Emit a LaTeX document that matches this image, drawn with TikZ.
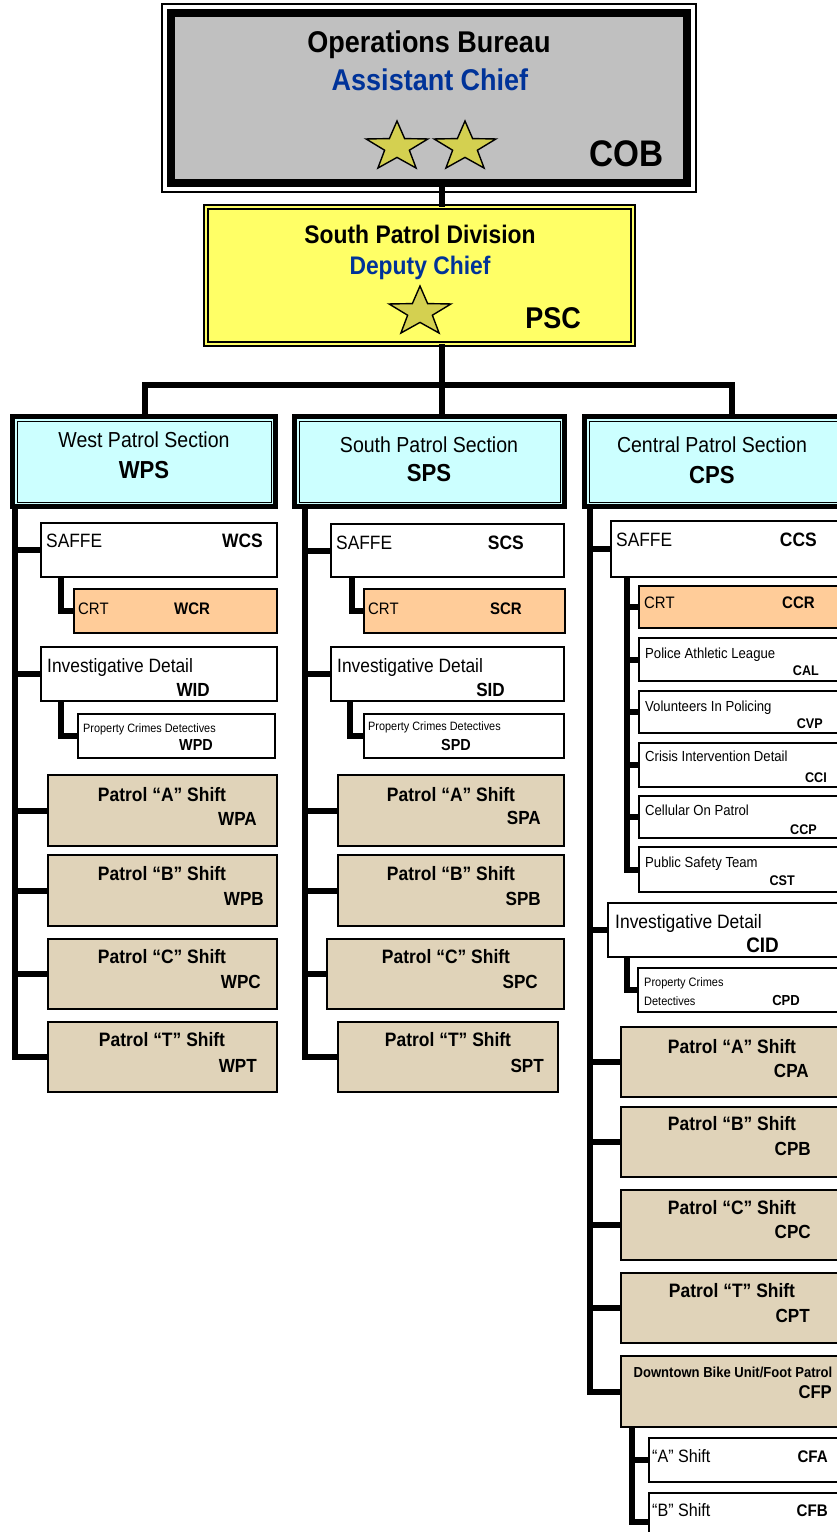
\documentclass[tikz,border=0pt]{standalone}
\usepackage{fontspec}
\setmainfont{Liberation Sans}[FakeStretch=0.9]
\usepackage{tikz}
\usetikzlibrary{fit, shapes.geometric}
\definecolor{cobgray}{RGB}{192, 192, 192}
\definecolor{pscyellow}{RGB}{255, 255, 102}
\definecolor{chiefblue}{RGB}{0, 51, 153}
\definecolor{sectcyan}{RGB}{204, 255, 255}
\definecolor{crtorange}{RGB}{255, 204, 153}
\definecolor{shifttan}{RGB}{224, 211, 185}
\definecolor{starfill}{RGB}{212, 208, 80}
\newcommand{\fsz}[1]{\fontsize{#1}{#1}\selectfont}
\tikzset{
  unit/.style={draw, line width=2.2pt, fill=white, inner sep=0pt, outer sep=0pt},
  crtbox/.style={unit, fill=crtorange},
  shiftbox/.style={unit, fill=shifttan},
  sect/.style={draw, line width=5pt, fill=sectcyan, inner sep=0pt, outer sep=0pt},
  link/.style={line width=6pt},
  lbl/.style={anchor=base west, inner sep=0pt},
  tag/.style={anchor=base east, inner sep=0pt},
  ttl/.style={anchor=base, inner sep=0pt},
  badge/.style={star, star points=5, star point ratio=2.5, minimum size=52pt,
    inner sep=0pt, draw, line width=1.4pt, fill=starfill, xscale=1.25}
}

\begin{document}
\begin{tikzpicture}[x=1pt, y=-1pt]
    \useasboundingbox (0,0) rectangle (837,1532);
    \clip (0,0) rectangle (837,1532);

    % bureau and division
    \node[draw, line width=8pt, fill=cobgray, inner sep=0pt, outer sep=0pt,
      fit={(171,13) (687,183)}] (cob) {};
    \draw[line width=1.5pt] ([shift={(-9,9)}]cob.south west) rectangle ([shift={(9,-9)}]cob.north east);
    \node[draw, line width=1.5pt, double=pscyellow, double distance=2.5pt, fill=pscyellow,
      inner sep=0pt, outer sep=0pt, fit={(206,207) (633,344)}] (psc) {};

    \node[ttl, font=\fsz{30}\bfseries] (cob-t) at (429,52) {Operations Bureau};
    \node[ttl, font=\fsz{30}\bfseries, text=chiefblue] (cob-r) at (430,90) {Assistant Chief};
    \node[tag, font=\fsz{37}\bfseries] (cob-c) at (664,166) {COB};
    \node[badge] (star1) at (397,147) {};
    \node[badge] (star2) at (465,147) {};

    \node[ttl, font=\fsz{25.4}\bfseries] (psc-t) at (420,243) {South Patrol Division};
    \node[ttl, font=\fsz{25.4}\bfseries, text=chiefblue] (psc-r) at (420,274) {Deputy Chief};
    \node[tag, font=\fsz{30}\bfseries] (psc-c) at (581,328) {PSC};
    \node[badge] (star3) at (420,312) {};

    % sections
    \node[sect, fit={(12.5,416.5) (275.5,506.5)}] (wps) {};
    \node[sect, fit={(294.5,416.5) (564.5,506.5)}] (sps) {};
    \node[sect, fit={(584.5,416.5) (860,506.5)}] (cps) {};
    \foreach \s in {wps,sps,cps}
      \draw[line width=1pt] ([shift={(4.5,-4.5)}]\s.south west) rectangle ([shift={(-4.5,4.5)}]\s.north east);

    \node[ttl, font=\fsz{21.7}] (wps-t) at (144,447) {West Patrol Section};
    \node[ttl, font=\fsz{24.6}\bfseries] (wps-c) at (144,478) {WPS};
    \node[ttl, font=\fsz{21.7}] (sps-t) at (429,452) {South Patrol Section};
    \node[ttl, font=\fsz{24.6}\bfseries] (sps-c) at (429,481) {SPS};
    \node[ttl, font=\fsz{21.7}] (cps-t) at (712,452) {Central Patrol Section};
    \node[ttl, font=\fsz{24.6}\bfseries] (cps-c) at (712,483) {CPS};

    % west
    \node[unit, fit={(41,523) (277,577)}] (wcs) {};
    \node[crtbox, fit={(74,589) (277,633)}] (wcr) {};
    \node[unit, fit={(41,647) (277,701)}] (wid) {};
    \node[unit, fit={(78,714) (275,758)}] (wpd) {};
    \node[shiftbox, fit={(48,775) (277,846)}] (wpa) {};
    \node[shiftbox, fit={(48,855) (277,926)}] (wpb) {};
    \node[shiftbox, fit={(48,939) (277,1009)}] (wpc) {};
    \node[shiftbox, fit={(48,1022) (277,1092)}] (wpt) {};

    \node[lbl, font=\fsz{19.3}] (wcs-t) at (46,547) {SAFFE};
    \node[tag, font=\fsz{19.4}\bfseries] (wcs-c) at (263,547) {WCS};
    \node[lbl, font=\fsz{16.6}] (wcr-t) at (78,614) {CRT};
    \node[lbl, font=\fsz{16.7}\bfseries] (wcr-c) at (174,614) {WCR};
    \node[lbl, font=\fsz{19.3}] (wid-t) at (47,672) {Investigative Detail};
    \node[tag, font=\fsz{19}\bfseries] (wid-c) at (210,696) {WID};
    \node[lbl, font=\fsz{12.1}] (wpd-t) at (83,732) {Property Crimes Detectives};
    \node[ttl, font=\fsz{16}\bfseries] (wpd-c) at (196,750) {WPD};
    \node[ttl, font=\fsz{19.4}\bfseries] (wpa-t) at (162,801) {Patrol “A” Shift};
    \node[tag, font=\fsz{19}\bfseries] (wpa-c) at (257,825) {WPA};
    \node[ttl, font=\fsz{19.4}\bfseries] (wpb-t) at (162,880) {Patrol “B” Shift};
    \node[tag, font=\fsz{19}\bfseries] (wpb-c) at (264,905) {WPB};
    \node[ttl, font=\fsz{19.4}\bfseries] (wpc-t) at (162,963) {Patrol “C” Shift};
    \node[tag, font=\fsz{19}\bfseries] (wpc-c) at (261,988) {WPC};
    \node[ttl, font=\fsz{19.4}\bfseries] (wpt-t) at (162,1046) {Patrol “T” Shift};
    \node[tag, font=\fsz{19}\bfseries] (wpt-c) at (257,1072) {WPT};

    % south
    \node[unit, fit={(331,524) (564,577)}] (scs) {};
    \node[crtbox, fit={(364,589) (565,633)}] (scr) {};
    \node[unit, fit={(331,647) (564,701)}] (sid) {};
    \node[unit, fit={(364,714) (564,758)}] (spd) {};
    \node[shiftbox, fit={(338,775) (564,846)}] (spa) {};
    \node[shiftbox, fit={(338,855) (564,926)}] (spb) {};
    \node[shiftbox, fit={(327,939) (564,1009)}] (spc) {};
    \node[shiftbox, fit={(338,1022) (558,1092)}] (spt) {};

    \node[lbl, font=\fsz{19.3}] (scs-t) at (336,549) {SAFFE};
    \node[tag, font=\fsz{19.4}\bfseries] (scs-c) at (524,549) {SCS};
    \node[lbl, font=\fsz{16.6}] (scr-t) at (368,614) {CRT};
    \node[tag, font=\fsz{16.7}\bfseries] (scr-c) at (522,614) {SCR};
    \node[lbl, font=\fsz{19.3}] (sid-t) at (337,672) {Investigative Detail};
    \node[tag, font=\fsz{19}\bfseries] (sid-c) at (505,696) {SID};
    \node[lbl, font=\fsz{12.1}] (spd-t) at (368,730) {Property Crimes Detectives};
    \node[ttl, font=\fsz{16}\bfseries] (spd-c) at (456,750) {SPD};
    \node[ttl, font=\fsz{19.4}\bfseries] (spa-t) at (451,801) {Patrol “A” Shift};
    \node[tag, font=\fsz{19}\bfseries] (spa-c) at (541,824) {SPA};
    \node[ttl, font=\fsz{19.4}\bfseries] (spb-t) at (451,880) {Patrol “B” Shift};
    \node[tag, font=\fsz{19}\bfseries] (spb-c) at (541,905) {SPB};
    \node[ttl, font=\fsz{19.4}\bfseries] (spc-t) at (446,963) {Patrol “C” Shift};
    \node[tag, font=\fsz{19}\bfseries] (spc-c) at (538,988) {SPC};
    \node[ttl, font=\fsz{19.4}\bfseries] (spt-t) at (448,1046) {Patrol “T” Shift};
    \node[tag, font=\fsz{19}\bfseries] (spt-c) at (544,1072) {SPT};

    % central
    \node[unit, fit={(611,521) (860,577)}] (ccs) {};
    \node[crtbox, fit={(639,586) (860,628)}] (ccr) {};
    \node[unit, fit={(639,638) (860,681)}] (cal) {};
    \node[unit, fit={(639,691) (860,733)}] (cvp) {};
    \node[unit, fit={(639,743) (860,787)}] (cci) {};
    \node[unit, fit={(639,796) (860,838)}] (ccp) {};
    \node[unit, fit={(639,847) (860,892)}] (cst) {};
    \node[unit, fit={(608,903) (860,957)}] (cid) {};
    \node[unit, fit={(638,968) (860,1012)}] (cpd) {};
    \node[shiftbox, fit={(621,1027) (860,1097)}] (cpa) {};
    \node[shiftbox, fit={(621,1107) (860,1177)}] (cpb) {};
    \node[shiftbox, fit={(621,1190) (860,1260)}] (cpc) {};
    \node[shiftbox, fit={(621,1273) (860,1343)}] (cpt) {};
    \node[shiftbox, fit={(621,1356) (860,1427)}] (cfp) {};
    \node[unit, fit={(649,1438) (860,1482)}] (cfa) {};
    \node[unit, fit={(649,1493) (860,1550)}] (cfb) {};

    \node[lbl, font=\fsz{19.3}] (ccs-t) at (616,546) {SAFFE};
    \node[tag, font=\fsz{19.4}\bfseries] (ccs-c) at (817,546) {CCS};
    \node[lbl, font=\fsz{16.6}] (ccr-t) at (644,608) {CRT};
    \node[tag, font=\fsz{16.7}\bfseries] (ccr-c) at (815,608) {CCR};
    \node[lbl, font=\fsz{14.6}] (cal-t) at (645,658) {Police Athletic League};
    \node[tag, font=\fsz{14}\bfseries] (cal-c) at (819,675) {CAL};
    \node[lbl, font=\fsz{14.6}] (cvp-t) at (645,711) {Volunteers In Policing};
    \node[tag, font=\fsz{14}\bfseries] (cvp-c) at (823,728) {CVP};
    \node[lbl, font=\fsz{14.6}] (cci-t) at (645,761) {Crisis Intervention Detail};
    \node[tag, font=\fsz{14}\bfseries] (cci-c) at (827,782) {CCI};
    \node[lbl, font=\fsz{14.6}] (ccp-t) at (645,815) {Cellular On Patrol};
    \node[tag, font=\fsz{14}\bfseries] (ccp-c) at (817,834) {CCP};
    \node[lbl, font=\fsz{14.6}] (cst-t) at (645,867) {Public Safety Team};
    \node[tag, font=\fsz{14}\bfseries] (cst-c) at (795,885) {CST};
    \node[lbl, font=\fsz{19.4}] (cid-t) at (615,928) {Investigative Detail};
    \node[tag, font=\fsz{21}\bfseries] (cid-c) at (779,952) {CID};
    \node[lbl, font=\fsz{12.2}] (cpd-t) at (644,986) {Property Crimes};
    \node[lbl, font=\fsz{12.2}] (cpd-u) at (644,1005) {Detectives};
    \node[tag, font=\fsz{14.5}\bfseries] (cpd-c) at (800,1005) {CPD};
    \node[ttl, font=\fsz{19.4}\bfseries] (cpa-t) at (732,1053) {Patrol “A” Shift};
    \node[tag, font=\fsz{19}\bfseries] (cpa-c) at (809,1077) {CPA};
    \node[ttl, font=\fsz{19.4}\bfseries] (cpb-t) at (732,1130) {Patrol “B” Shift};
    \node[tag, font=\fsz{19}\bfseries] (cpb-c) at (811,1155) {CPB};
    \node[ttl, font=\fsz{19.4}\bfseries] (cpc-t) at (732,1214) {Patrol “C” Shift};
    \node[tag, font=\fsz{19}\bfseries] (cpc-c) at (811,1238) {CPC};
    \node[ttl, font=\fsz{19.4}\bfseries] (cpt-t) at (732,1297) {Patrol “T” Shift};
    \node[tag, font=\fsz{19}\bfseries] (cpt-c) at (810,1322) {CPT};
    \node[ttl, font=\fsz{14.5}\bfseries] (cfp-t) at (733,1377) {Downtown Bike Unit/Foot Patrol};
    \node[tag, font=\fsz{18.5}\bfseries] (cfp-c) at (832,1398) {CFP};
    \node[lbl, font=\fsz{17.9}] (cfa-t) at (652,1462) {“A” Shift};
    \node[tag, font=\fsz{16.8}\bfseries] (cfa-c) at (828,1462) {CFA};
    \node[lbl, font=\fsz{17.9}] (cfb-t) at (652,1516) {“B” Shift};
    \node[tag, font=\fsz{16.8}\bfseries] (cfb-c) at (828,1516) {CFB};

    % connectors
    \coordinate (hub) at (442,385);
    \coordinate (barW) at (145,385);
    \coordinate (barE) at (732,385);
    \draw[link] (hub |- cob.south) -- (hub |- psc.north);
    \draw[link] (hub |- psc.south) -- (hub |- sps.north);
    \draw[link] (barW |- wps.north) -- (barW) -- (barE) -- (barE |- cps.north);

    \foreach \n in {wcs,wid,wpa,wpb,wpc,wpt}
      \draw[link] ([xshift=2.5pt]wps.south west) |- (\n.west);
    \draw[link] ([xshift=20pt]wcs.south west) |- (wcr.west);
    \draw[link] ([xshift=20pt]wid.south west) |- (wpd.west);

    \foreach \n in {scs,sid,spa,spb,spc,spt}
      \draw[link] ([xshift=10.5pt]sps.south west) |- (\n.west);
    \draw[link] ([xshift=21pt]scs.south west) |- (scr.west);
    \draw[link] ([xshift=19pt]sid.south west) |- (spd.west);

    \foreach \n in {ccs,cid,cpa,cpb,cpc,cpt,cfp}
      \draw[link] ([xshift=5.5pt]cps.south west) |- (\n.west);
    \foreach \n in {ccr,cal,cvp,cci,ccp,cst}
      \draw[link] ([xshift=16pt]ccs.south west) |- (\n.west);
    \draw[link] ([xshift=19pt]cid.south west) |- (cpd.west);
    \foreach \n in {cfa,cfb}
      \draw[link] ([xshift=11pt]cfp.south west) |- (\n.west);
\end{tikzpicture}
\end{document}
